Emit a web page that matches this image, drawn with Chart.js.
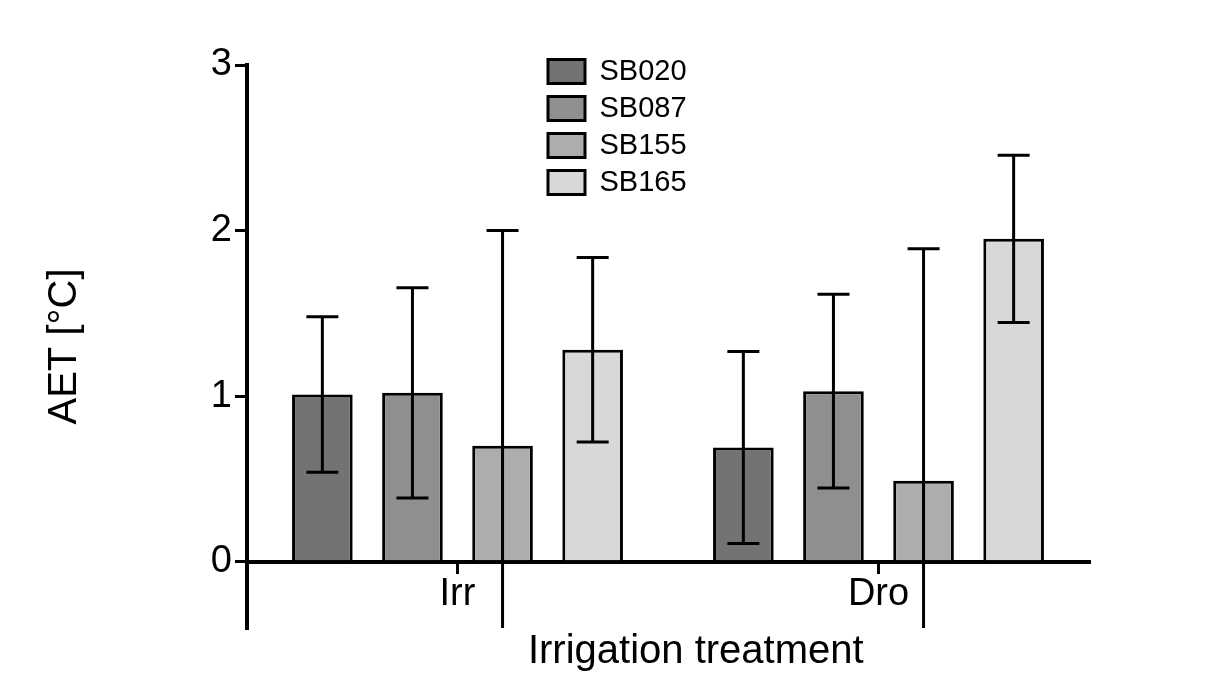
<!DOCTYPE html>
<html>
<head>
<meta charset="utf-8">
<script src="https://cdn.jsdelivr.net/npm/chart.js@4"></script>
<style>
  html, body { margin: 0; padding: 0; background: #fff; }
  #wrap { width: 1210px; height: 679px; }
</style>
</head>
<body>
<div id="wrap"><canvas id="aetChart"></canvas></div>
<script>
// values
const categories = ['Irr', 'Dro'];
const seriesNames = ['SB020', 'SB087', 'SB155', 'SB165'];
const sb020 = [1.01, 0.69];
const sb087 = [1.02, 1.03];
const sb155 = [0.70, 0.49];
const sb165 = [1.28, 1.95];
const sb020Err = [0.47, 0.58];
const sb087Err = [0.635, 0.585];
const sb155Err = [1.30, 1.40];
const sb165Err = [0.557, 0.505];
const yTicks = [0, 1, 2, 3];

const fills = ['#737373', '#8f8f8f', '#adadad', '#d8d8d8'];
const FONT = "'Liberation Sans', Arial, sans-serif";

const values = [sb020, sb087, sb155, sb165];
const errors = [sb020Err, sb087Err, sb155Err, sb165Err];

// error bars, drawn from the bar elements and the y scale
const errorBars = {
    id: 'errorBars',
    afterDatasetsDraw: function(chart) {
        const ctx = chart.ctx;
        const yScale = chart.scales.y;
        const area = chart.chartArea;
        ctx.save();
        ctx.beginPath();
        ctx.rect(area.left, area.top, area.right - area.left, area.bottom - area.top);
        ctx.clip();
        ctx.strokeStyle = '#000';
        ctx.lineWidth = 3;
        chart.data.datasets.forEach(function(ds, i) {
            const meta = chart.getDatasetMeta(i);
            meta.data.forEach(function(bar, j) {
                const v = ds.data[j];
                const e = ds.errors[j];
                const yTop = yScale.getPixelForValue(v + e);
                const yBot = yScale.getPixelForValue(v - e);
                const cap = 16;
                ctx.beginPath();
                ctx.moveTo(bar.x, yTop);
                ctx.lineTo(bar.x, yBot);
                ctx.moveTo(bar.x - cap, yTop);
                ctx.lineTo(bar.x + cap, yTop);
                ctx.moveTo(bar.x - cap, yBot);
                ctx.lineTo(bar.x + cap, yBot);
                ctx.stroke();
            });
        });
        ctx.restore();
    }
};

// legend sits inside the plot, move it to where the figure has it
const legendSpot = {
    id: 'legendSpot',
    afterLayout: function(chart) {
        const lg = chart.legend;
        if (!lg) return;
        lg.left = 540;
        lg.top = 49;
        lg.right = lg.left + 300;
        lg.bottom = lg.top + 200;
    }
};

new Chart(document.getElementById('aetChart'), {
    type: 'bar',
    data: {
        labels: categories,
        datasets: seriesNames.map(function(name, i) {
            return {
                label: name,
                data: values[i],
                errors: errors[i],
                backgroundColor: fills[i],
                borderColor: '#000',
                borderWidth: 3,
                barPercentage: 0.673,
                categoryPercentage: 0.856
            };
        })
    },
    options: {
        responsive: true,
        maintainAspectRatio: false,
        animation: false,
        layout: {
            padding: { left: 0, right: 121, top: 65, bottom: 51 }
        },
        plugins: {
            tooltip: { enabled: false },
            legend: {
                position: 'chartArea',
                align: 'start',
                labels: {
                    color: '#000',
                    font: { family: FONT, size: 29 },
                    boxWidth: 37,
                    boxHeight: 24,
                    padding: 8
                }
            }
        },
        scales: {
            x: {
                position: { y: 0 },
                z: 1,
                border: { display: true, color: '#000', width: 4 },
                grid: {
                    offset: false,
                    drawOnChartArea: false,
                    drawTicks: true,
                    tickLength: 10,
                    color: '#000',
                    lineWidth: 3
                },
                ticks: {
                    color: '#000',
                    padding: 0,
                    font: { family: FONT, size: 38 }
                },
                title: {
                    display: true,
                    // leading spaces nudge the title right, as in the figure
                    text: '\u00a0\u00a0\u00a0\u00a0\u00a0Irrigation treatment',
                    color: '#000',
                    font: { family: FONT, size: 40 },
                    padding: { top: 11, bottom: 0 }
                }
            },
            y: {
                min: -0.4,
                max: 3,
                afterBuildTicks: function(axis) {
                    axis.ticks = yTicks.map(function(v) { return { value: v }; });
                },
                afterFit: function(axis) {
                    axis.width = 247;
                },
                border: { display: true, color: '#000', width: 4 },
                grid: {
                    drawOnChartArea: false,
                    drawTicks: true,
                    tickLength: 12,
                    color: '#000',
                    lineWidth: 3
                },
                ticks: {
                    color: '#000',
                    padding: 3,
                    font: { family: FONT, size: 38 }
                },
                title: {
                    display: true,
                    text: 'AET [°C]',
                    color: '#000',
                    font: { family: FONT, size: 40 },
                    padding: { top: 41, bottom: 0 }
                }
            }
        }
    },
    plugins: [errorBars, legendSpot]
});
</script>
</body>
</html>
